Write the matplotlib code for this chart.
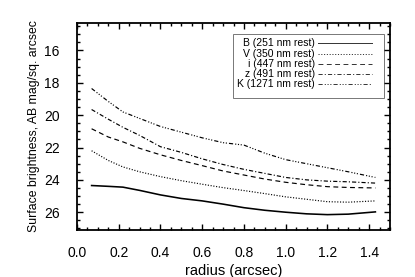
import numpy as np
import matplotlib
matplotlib.use("Agg")
import matplotlib.pyplot as plt
from matplotlib.ticker import MultipleLocator
from matplotlib.patches import Rectangle

plt.rcParams.update({
    "font.family": ["Liberation Sans", "DejaVu Sans"],
    "lines.scale_dashes": False,
})

# radius (arcsec) and surface brightness (AB mag / sq. arcsec)
radius = [0.07, 0.15, 0.22, 0.30, 0.40, 0.50, 0.60, 0.70, 0.80, 0.90, 1.00, 1.10, 1.20, 1.30, 1.43]
sb_B = [24.35, 24.40, 24.45, 24.65, 24.93, 25.15, 25.30, 25.50, 25.72, 25.88, 26.00, 26.10, 26.15, 26.12, 25.98]
sb_V = [22.20, 22.80, 23.20, 23.50, 23.80, 24.05, 24.27, 24.48, 24.66, 24.85, 25.05, 25.20, 25.35, 25.38, 25.30]
sb_i = [20.84, 21.35, 21.65, 22.05, 22.45, 22.80, 23.12, 23.45, 23.70, 23.95, 24.15, 24.30, 24.42, 24.47, 24.50]
sb_z = [19.65, 20.25, 20.75, 21.25, 21.95, 22.30, 22.70, 23.05, 23.35, 23.60, 23.85, 24.00, 24.08, 24.12, 24.20]
sb_K = [18.35, 19.15, 19.80, 20.20, 20.70, 21.05, 21.40, 21.70, 21.85, 22.35, 22.75, 23.00, 23.25, 23.50, 23.85]

labels = ["B (251 nm rest)", "V (350 nm rest)", "i (447 nm rest)",
          "z (491 nm rest)", "K (1271 nm rest)"]
series = [sb_B, sb_V, sb_i, sb_z, sb_K]
styles = ["-", (0, (0.8, 1.2)), (0, (3.5, 2.5)),
          (0, (3, 1.5, 0.8, 1.5)), (0, (3, 1.5, 0.8, 1.2, 0.8, 1.2, 0.8, 1.5))]
widths = [1.15, 0.85, 0.85, 0.85, 0.85]

fig = plt.figure(figsize=(4.15, 2.77), dpi=100)
ax = fig.add_axes([77 / 415, 1 - 230 / 277, 313 / 415, 207 / 277])

for y, ls, lw in zip(series, styles, widths):
    ax.plot(radius, y, color="black", linestyle=ls, linewidth=lw)

ax.set_xlim(0, 1.5)
ax.set_ylim(27.1, 14.3)
ax.xaxis.set_minor_locator(MultipleLocator(0.05))
ax.yaxis.set_minor_locator(MultipleLocator(0.5))
xt = np.arange(0, 1.41, 0.2)
ax.set_xticks(xt)
ax.set_xticklabels(["%.1f" % v for v in xt])
ax.set_yticks([16, 18, 20, 22, 24, 26])

ax.tick_params(which="both", direction="in", top=True, right=True, width=1.0)
ax.tick_params(which="major", length=4)
ax.tick_params(which="minor", length=2.2)
ax.tick_params(axis="x", which="major", labelsize=10, pad=11.5)
ax.tick_params(axis="y", which="major", labelsize=10, pad=12.5)
for s in ax.spines.values():
    s.set_linewidth(1.3)

ax.set_xlabel("radius (arcsec)", fontsize=10.5, labelpad=3)
ax.set_ylabel("Surface brightness, AB mag/sq. arcsec", fontsize=8.8, labelpad=3)

# hand-drawn legend, text right-aligned before the line sample
ax.add_patch(Rectangle((0.498, 0.638), 0.483, 0.309, transform=ax.transAxes,
                       fill=False, edgecolor="#777777", linewidth=0.7))
rows = [0.902, 0.852, 0.802, 0.754, 0.707]
for lab, ls, ry in zip(labels, styles, rows):
    ax.text(0.760, ry, lab, transform=ax.transAxes, ha="right", va="center", fontsize=7.5)
    ax.plot([0.770, 0.942], [ry, ry], transform=ax.transAxes, color="#333333",
            linestyle=ls, linewidth=0.7)

fig.savefig("out.png", dpi=100)
